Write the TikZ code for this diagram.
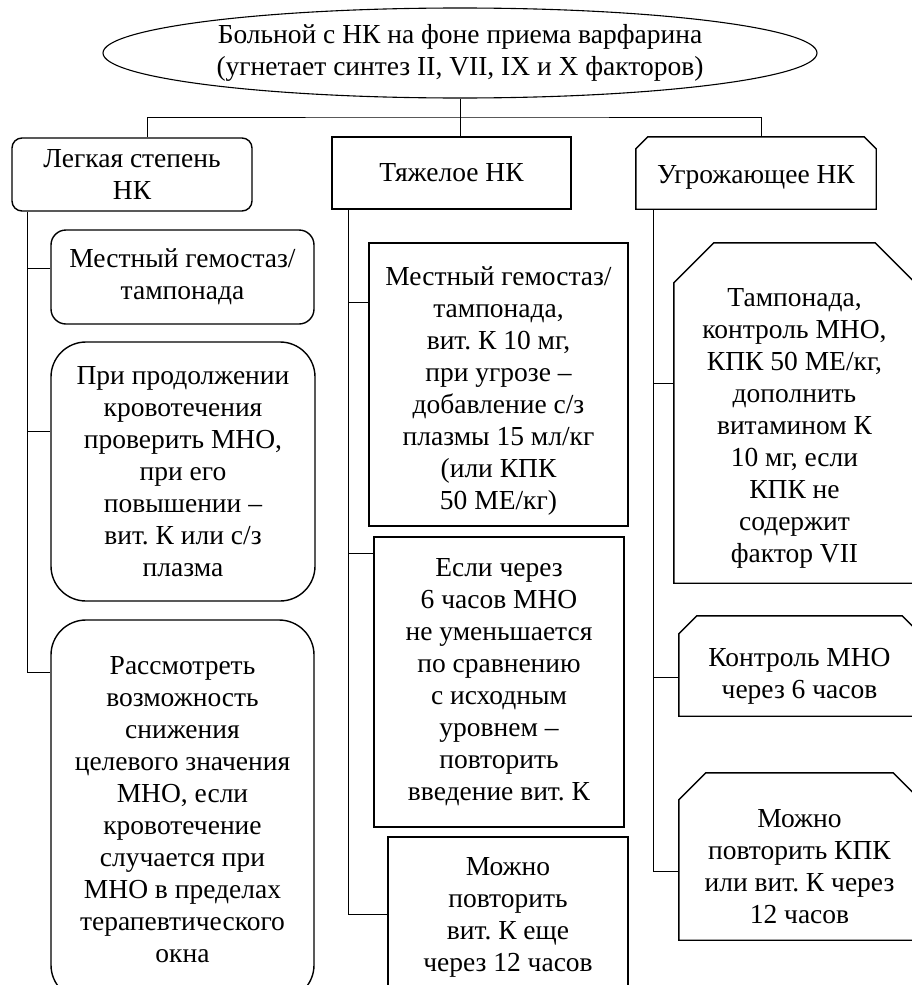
\documentclass[tikz,border=0pt]{standalone}
\usepackage{fontspec}
\setmainfont{Liberation Serif}
\usetikzlibrary{shapes.geometric,calc}
\frenchspacing

\tikzset{
  every node/.style={font=\fontsize{27.5}{32}\selectfont, align=center, inner sep=0pt},
  boxsize/.style 2 args={minimum width=#1pt, minimum height=#2pt},
  boxtext/.style 2 args={label={[yshift=#1]center:{#2}}},
  oval/.style={ellipse, draw, line width=1.1pt, minimum width=714pt, minimum height=90pt},
  roundbox/.style={draw, rounded corners=#1, line width=1.4pt},
  plainbox/.style={draw, line width=1.4pt},
  link/.style={line width=0.9pt}
}
% frame with cut upper corners
\newcommand{\cutframe}[2]{%
  \draw[line width=1.4pt] ([yshift=-#2]#1.north west) -- ([xshift=#2]#1.north west)
    -- ([xshift=-#2]#1.north east) -- ([yshift=-#2]#1.north east)
    -- (#1.south east) -- (#1.south west) -- cycle;}

\begin{document}
\begin{tikzpicture}[x=1pt,y=-1pt]
  \useasboundingbox (0,0) rectangle (912,985);
  \clip (0,0) rectangle (912,985);

  \node[oval] (patient) at (460,53) {Больной с НК на фоне приема варфарина\\(угнетает синтез II, VII, IX и X факторов)};

  \node[roundbox=10pt, boxsize={240}{73}] (light) at (132,174.5) {Легкая степень\\НК};
  \node[plainbox, boxsize={239}{72}] (severe) at (451.5,173) {Тяжелое НК};
  \node[boxsize={240}{72}, boxtext={-4pt}{Угрожающее НК}] (threat) at (756,173) {};
  \cutframe{threat}{12pt}

  \coordinate (bus) at (460,117);
  \draw[link] (patient.south) -- (severe.north -| patient.south);
  \draw[link] ([xshift=15pt]light.north) |- (bus) -| ([xshift=5pt]threat.north);

  % left column
  \node[roundbox=15pt, boxsize={263}{94}] (L1) at (182.5,277) {Местный гемостаз/\\тампонада};
  \node[roundbox=35pt, boxsize={264}{259}] (L2) at (183,471.5) {При продолжении\\кровотечения\\проверить МНО,\\при его\\повышении –\\вит. К или с/з\\плазма};
  \node[roundbox=35pt, boxsize={263}{380}] (L3) at (182.5,810) {Рассмотреть\\возможность\\снижения\\целевого значения\\МНО, если\\кровотечение\\случается при\\МНО в пределах\\терапевтического\\окна};

  \coordinate (lspine) at (27,0);
  \draw[link] (lspine |- light.south) -- (lspine |- 0,672) -- (L3.west |- 0,672);
  \foreach \b/\y in {L1/268, L2/431}
    \draw[link] (lspine |- 0,\y) -- (\b.west |- 0,\y);

  % middle column
  \node[plainbox, boxsize={259}{283}, boxtext={-7pt}{Местный гемостаз/\\тампонада,\\вит. К 10 мг,\\при угрозе –\\добавление с/з\\плазмы 15 мл/кг\\(или КПК\\50 МЕ/кг)}] (M1) at (498.5,384.5) {};
  \node[plainbox, boxsize={250}{290}] (M2) at (499,682) {Если через\\6 часов МНО\\не уменьшается\\по сравнению\\с исходным\\уровнем –\\повторить\\введение вит. К};
  \node[plainbox, boxsize={240}{160}] (M3) at (508,917) {Можно\\повторить\\вит. К еще\\через 12 часов};

  \coordinate (mspine) at (348,0);
  \draw[link] (mspine |- severe.south) -- (mspine |- 0,914) -- (M3.west |- 0,914);
  \foreach \b/\y in {M1/302, M2/553}
    \draw[link] (mspine |- 0,\y) -- (\b.west |- 0,\y);

  % right column
  \node[boxsize={241}{340}, boxtext={-15pt}{Тампонада,\\контроль МНО,\\КПК 50 МЕ/кг,\\дополнить\\витамином К\\10 мг, если\\КПК не\\содержит\\фактор VII}] (R1) at (794.5,413) {};
  \cutframe{R1}{40pt}
  \node[boxsize={241}{100}, boxtext={-10pt}{Контроль МНО\\через 6 часов}] (R2) at (799.5,666) {};
  \cutframe{R2}{18pt}
  \node[boxsize={241}{167}, boxtext={-10pt}{Можно\\повторить КПК\\или вит. К через\\12 часов}] (R3) at (799.5,856.5) {};
  \cutframe{R3}{27pt}

  \coordinate (rspine) at (653,0);
  \draw[link] (rspine |- threat.south) -- (rspine |- 0,871) -- (R3.west |- 0,871);
  \foreach \b/\y in {R1/383, R2/677}
    \draw[link] (rspine |- 0,\y) -- (\b.west |- 0,\y);
\end{tikzpicture}
\end{document}
